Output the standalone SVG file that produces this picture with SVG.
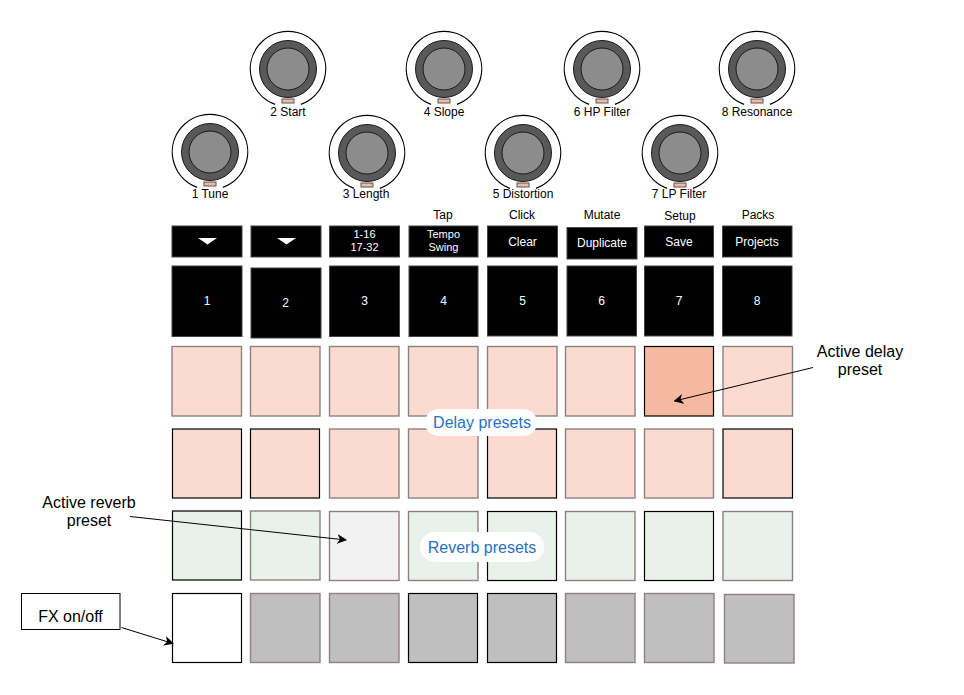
<svg xmlns="http://www.w3.org/2000/svg" width="964" height="695" viewBox="0 0 964 695">
<defs>
<style>
text{font-family:"Liberation Sans",Arial,sans-serif;}
.lbl{font-size:12px;fill:#000;text-anchor:middle;}
.wt{font-size:12px;fill:#fff;text-anchor:middle;}
.wts{font-size:11px;fill:#fff;text-anchor:middle;}
.ring{fill:none;stroke:#000;stroke-width:1.2;}
.dk{fill:#595959;stroke:#1a1a1a;stroke-width:1;}
.gr{fill:#8c8c8c;stroke:#1a1a1a;stroke-width:1;}
.ind{fill:#f4b9a5;stroke:#555;stroke-width:1;}
.btn{fill:#000;stroke:#444;stroke-width:1;}
.dl{fill:#fbdbd0;}
.dla{fill:#f7b8a0;}
.rv{fill:#eaf1ea;}
.rva{fill:#f2f2f2;}
.gy{fill:#bfbfbf;}
.wh{fill:#fff;}
.sg{stroke:#8a8282;stroke-width:1.4;}
.sb{stroke:#000;stroke-width:1.2;}
.pill{fill:#fff;}
.blue{font-size:16px;fill:#2672c0;text-anchor:middle;}
.ann{font-size:16px;fill:#000;text-anchor:middle;}
.conn{stroke:#000;stroke-width:1;fill:none;marker-end:url(#ah);}
</style>
<marker id="ah" viewBox="0 0 10 10" refX="9" refY="5" markerWidth="10" markerHeight="10" markerUnits="userSpaceOnUse" orient="auto">
<path d="M0,0 L10,5 L0,10 L3,5 Z" fill="#000"/>
</marker>
<g id="knob">
<path class="ring" d="M-12.9,35.4 A37.7,37.7 0 1 1 12.9,35.4"/>
<circle class="dk" r="28.5"/>
<circle class="gr" r="21"/>
<rect class="ind" x="-6" y="30" width="12" height="4"/>
</g>
</defs>
<rect width="964" height="695" fill="#fff"/>

<g id="knob1"><use href="#knob" x="210" y="152"/><text class="lbl" x="210" y="197.5">1 Tune</text></g>
<g id="knob2"><use href="#knob" x="288" y="69"/><text class="lbl" x="288" y="116">2 Start</text></g>
<g id="knob3"><use href="#knob" x="367" y="153"/><text class="lbl" x="366" y="197.5">3 Length</text></g>
<g id="knob4"><use href="#knob" x="444" y="69"/><text class="lbl" x="444" y="116">4 Slope</text></g>
<g id="knob5"><use href="#knob" x="523" y="153"/><text class="lbl" x="523" y="197.5">5 Distortion</text></g>
<g id="knob6"><use href="#knob" x="602" y="69"/><text class="lbl" x="602" y="116">6 HP Filter</text></g>
<g id="knob7"><use href="#knob" x="680" y="153"/><text class="lbl" x="679" y="197.5">7 LP Filter</text></g>
<g id="knob8"><use href="#knob" x="757" y="69"/><text class="lbl" x="757" y="116">8 Resonance</text></g>

<g id="shift-labels">
<text class="lbl" x="443" y="218.5">Tap</text>
<text class="lbl" x="522" y="218.5">Click</text>
<text class="lbl" x="602" y="218.5">Mutate</text>
<text class="lbl" x="680" y="220">Setup</text>
<text class="lbl" x="758" y="219">Packs</text>
</g>

<g id="top-buttons">
<g id="tb1"><rect class="btn" x="172" y="226" width="70" height="31"/><path d="M198,238 L217,238 L207.5,244.5 Z" fill="#fff"/></g>
<g id="tb2"><rect class="btn" x="251" y="226" width="70" height="31"/><path d="M277,238 L296,238 L286.5,244.5 Z" fill="#fff"/></g>
<g id="tb3"><rect class="btn" x="329.5" y="226" width="70" height="31"/><text class="wts" x="364.5" y="238">1-16</text><text class="wts" x="364.5" y="251">17-32</text></g>
<g id="tb4"><rect class="btn" x="409" y="226" width="69" height="31"/><text class="wts" x="443.5" y="238">Tempo</text><text class="wts" x="443.5" y="251">Swing</text></g>
<g id="tb5"><rect class="btn" x="487.5" y="226" width="70" height="31"/><text class="wt" x="522.5" y="246">Clear</text></g>
<g id="tb6"><rect class="btn" x="567" y="227.5" width="70" height="31.5"/><text class="wt" x="602" y="247">Duplicate</text></g>
<g id="tb7"><rect class="btn" x="644.5" y="226" width="69" height="31"/><text class="wt" x="679" y="246">Save</text></g>
<g id="tb8"><rect class="btn" x="722.5" y="226" width="69.5" height="31"/><text class="wt" x="757" y="246">Projects</text></g>
</g>

<g id="step-buttons">
<g id="sb1"><rect class="btn" x="172" y="266" width="70" height="70.5"/><text class="wt" x="207" y="305">1</text></g>
<g id="sb2"><rect class="btn" x="251" y="268" width="70" height="70"/><text class="wt" x="285.5" y="307">2</text></g>
<g id="sb3"><rect class="btn" x="329.5" y="266" width="70" height="70.5"/><text class="wt" x="364.5" y="305">3</text></g>
<g id="sb4"><rect class="btn" x="409" y="266" width="69" height="70.5"/><text class="wt" x="443.5" y="305">4</text></g>
<g id="sb5"><rect class="btn" x="487.5" y="266" width="70" height="70"/><text class="wt" x="522.5" y="305">5</text></g>
<g id="sb6"><rect class="btn" x="567" y="266" width="69.5" height="70"/><text class="wt" x="601.5" y="305">6</text></g>
<g id="sb7"><rect class="btn" x="644.5" y="266" width="69" height="70"/><text class="wt" x="679" y="305">7</text></g>
<g id="sb8"><rect class="btn" x="722.5" y="266" width="69.5" height="70"/><text class="wt" x="757" y="305">8</text></g>
</g>

<g id="delay-row1">
<rect id="d1" class="dl sg" x="172" y="346.5" width="69.5" height="69.5"/>
<rect id="d2" class="dl sg" x="250.5" y="346.5" width="69.5" height="69.5"/>
<rect id="d3" class="dl sg" x="329.5" y="346.5" width="69.5" height="69.5"/>
<rect id="d4" class="dl sg" x="408.5" y="346.5" width="69.5" height="69.5"/>
<rect id="d5" class="dl sg" x="487.5" y="346.5" width="69.5" height="69.5"/>
<rect id="d6" class="dl sg" x="565.5" y="346.5" width="69.5" height="69.5"/>
<rect id="d7" class="dla sb" x="644.5" y="346.5" width="69" height="69.5"/>
<rect id="d8" class="dl sg" x="723" y="346.5" width="69.5" height="69.5"/>
</g>
<g id="delay-row2">
<rect id="d9" class="dl sb" x="172.5" y="429" width="69" height="69"/>
<rect id="d10" class="dl sb" x="250.5" y="429" width="69" height="69"/>
<rect id="d11" class="dl sg" x="329.5" y="429" width="69.5" height="69"/>
<rect id="d12" class="dl sg" x="408.5" y="429" width="69.5" height="69"/>
<rect id="d13" class="dl sb" x="487.5" y="429" width="69" height="69"/>
<rect id="d14" class="dl sg" x="565.5" y="429" width="69.5" height="69"/>
<rect id="d15" class="dl sg" x="644.5" y="429" width="69" height="69"/>
<rect id="d16" class="dl sb" x="723" y="429" width="69.5" height="69"/>
</g>
<g id="reverb-row">
<rect id="r1" class="rv sb" x="172.5" y="511" width="69" height="69"/>
<rect id="r2" class="rv sg" x="250.5" y="511" width="69.5" height="69"/>
<rect id="r3" class="rva sg" x="329.5" y="511.5" width="69.5" height="69"/>
<rect id="r4" class="rv sg" x="408.5" y="511.5" width="69.5" height="69"/>
<rect id="r5" class="rv sb" x="487.5" y="511.5" width="69" height="69"/>
<rect id="r6" class="rv sg" x="565.5" y="511.5" width="69.5" height="69"/>
<rect id="r7" class="rv sb" x="644.5" y="511.5" width="69" height="69"/>
<rect id="r8" class="rv sg" x="723" y="511.5" width="69.5" height="69"/>
</g>
<g id="bottom-row">
<rect id="fx" class="wh sb" x="172.5" y="593.5" width="69" height="69"/>
<rect id="b2" class="gy sg" x="250.5" y="593.5" width="69.5" height="69"/>
<rect id="b3" class="gy sg" x="329.5" y="593.5" width="69.5" height="69"/>
<rect id="b4" class="gy sb" x="408.5" y="593.5" width="69" height="69"/>
<rect id="b5" class="gy sb" x="487.5" y="593.5" width="69" height="69"/>
<rect id="b6" class="gy sg" x="565.5" y="593.5" width="69.5" height="69"/>
<rect id="b7" class="gy sg" x="644.5" y="593.5" width="69.5" height="69"/>
<rect id="b8" class="gy sg" x="724.5" y="594.5" width="69.5" height="68.5"/>
</g>

<g id="delay-label"><rect class="pill" x="425" y="409" width="112" height="27" rx="13.5"/><text class="blue" x="482" y="427.5">Delay presets</text></g>
<g id="reverb-label"><rect class="pill" x="420" y="532" width="124" height="30" rx="15"/><text class="blue" x="482" y="552.5">Reverb presets</text></g>

<g id="ann-delay"><text class="ann" x="860" y="357">Active delay</text><text class="ann" x="860" y="375">preset</text></g>
<g id="ann-reverb"><text class="ann" x="89" y="508">Active reverb</text><text class="ann" x="89" y="526">preset</text></g>
<g id="ann-fx"><rect x="21.5" y="593.5" width="98.5" height="36" fill="#fff" stroke="#000" stroke-width="1"/><text class="ann" x="70.5" y="622">FX on/off</text></g>

<g id="connectors">
<line class="conn" x1="813" y1="367.5" x2="674.5" y2="401"/>
<line class="conn" x1="130" y1="516.5" x2="346" y2="540"/>
<line class="conn" x1="121.5" y1="627.5" x2="173" y2="643.5"/>
</g>
</svg>
